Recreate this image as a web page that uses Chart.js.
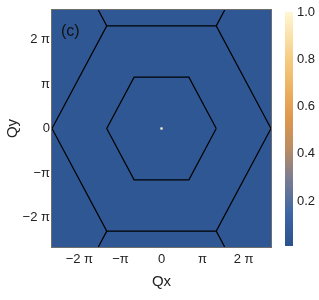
<!DOCTYPE html>
<html>
<head>
<meta charset="utf-8">
<script src="https://cdn.jsdelivr.net/npm/chart.js@4.4.1/dist/chart.umd.min.js"></script>
<style>
  body { margin: 0; background: #fff; }
  #wrap { position: relative; width: 319px; height: 300px; }
  #mapa { position: absolute; left: 0; top: 0; }
  #barra { position: absolute; left: 270px; top: 0; }
</style>
</head>
<body>
<div id="wrap">
  <canvas id="mapa" width="319" height="300"></canvas>
  <canvas id="barra" width="49" height="300"></canvas>
</div>
<script>
// coordenadas en unidades de pi
const ejeMin = -8 / 3;
const ejeMax = 8 / 3;
const ticksPi = [-2, -1, 0, 1, 2];
const etiquetasTicks = ["\u22122 \u03c0", "\u2212\u03c0", "0", "\u03c0", "2 \u03c0"];

// hexagono interior (primera zona)
const hexIntX = [4/3, 2/3, -2/3, -4/3, -2/3, 2/3, 4/3];
const hexIntY = [0, 1.1547, 1.1547, 0, -1.1547, -1.1547, 0];

// hexagono exterior
const hexExtX = [8/3, 4/3, -4/3, -8/3, -4/3, 4/3, 8/3];
const hexExtY = [0, 2.3094, 2.3094, 0, -2.3094, -2.3094, 0];

// aristas de las zonas vecinas (pares de puntos)
const vecX = [-4/3, -1.5396, 4/3, 1.5396, -4/3, -1.5396, 4/3, 1.5396];
const vecY = [2.3094, 2.6667, 2.3094, 2.6667, -2.3094, -2.6667, -2.3094, -2.6667];

// intensidad: fondo casi nulo y un pico en el centro
const fondoNivel = 0.05;
const picoX = [0];
const picoY = [0];
const picoNivel = [1.0];

// barra de color
const barraMin = 0.01;
const barraMax = 1.0;
const barraTicks = [0.2, 0.4, 0.6, 0.8, 1.0];
const paradasValor = [0.0, 0.15, 0.3, 0.42, 0.55, 0.65, 0.8, 1.0];
const paradasColor = [
    [40, 80, 140], [62, 102, 165], [125, 125, 145], [185, 140, 100],
    [222, 152, 78], [234, 172, 92], [246, 204, 130], [255, 247, 212]
];

const fuente = "'Liberation Sans', Arial, sans-serif";

function colorDe(v) {
    for (let i = 1; i < paradasValor.length; i++) {
        if (v <= paradasValor[i]) {
            let t = (v - paradasValor[i - 1]) / (paradasValor[i] - paradasValor[i - 1]);
            let a = paradasColor[i - 1], b = paradasColor[i];
            let c = a.map((x, k) => Math.round(x + (b[k] - x) * t));
            return "rgb(" + c.join(",") + ")";
        }
    }
    return "rgb(" + paradasColor[paradasColor.length - 1].join(",") + ")";
}

function puntos(xs, ys) {
    return xs.map((x, i) => ({ x: x * Math.PI, y: ys[i] * Math.PI }));
}

function segmentos(xs, ys) {
    let res = [];
    for (let i = 0; i < xs.length; i += 2) {
        res.push({ x: xs[i] * Math.PI, y: ys[i] * Math.PI });
        res.push({ x: xs[i + 1] * Math.PI, y: ys[i + 1] * Math.PI });
        res.push({ x: xs[i + 1] * Math.PI, y: null });
    }
    return res;
}

const fondoPlugin = {
    id: "fondo",
    beforeDatasetsDraw(chart) {
        const a = chart.chartArea;
        const ctx = chart.ctx;
        ctx.save();
        ctx.fillStyle = colorDe(fondoNivel);
        ctx.fillRect(a.left, a.top, a.right - a.left, a.bottom - a.top);
        ctx.restore();
    },
    afterDraw(chart) {
        const a = chart.chartArea;
        const ctx = chart.ctx;
        ctx.save();
        ctx.strokeStyle = "#6e6e6e";
        ctx.lineWidth = 1;
        ctx.strokeRect(a.left - 0.5, a.top - 0.5, a.right - a.left + 1, a.bottom - a.top + 1);
        ctx.fillStyle = "#111";
        ctx.font = "16px " + fuente;
        ctx.textBaseline = "middle";
        ctx.fillText("(c)", a.left + 9, a.top + 22);
        ctx.restore();
    }
};

function dibujarMapa() {
    const lineaNegra = { showLine: true, borderColor: "#000", borderWidth: 1.2, pointRadius: 0, fill: false, spanGaps: false };
    new Chart(document.getElementById("mapa").getContext("2d"), {
        type: "scatter",
        data: {
            datasets: [
                Object.assign({ data: puntos(hexIntX, hexIntY) }, lineaNegra),
                Object.assign({ data: puntos(hexExtX, hexExtY) }, lineaNegra),
                Object.assign({ data: segmentos(vecX, vecY) }, lineaNegra),
                {
                    data: puntos(picoX, picoY),
                    pointStyle: "rect",
                    pointRadius: 1.6,
                    borderWidth: 0,
                    backgroundColor: picoNivel.map(colorDe)
                }
            ]
        },
        options: {
            responsive: false,
            animation: false,
            devicePixelRatio: 1,
            layout: { padding: { top: 10, right: 48, left: 0, bottom: 0 } },
            plugins: { legend: { display: false }, tooltip: { enabled: false } },
            scales: {
                x: {
                    type: "linear",
                    min: ejeMin * Math.PI,
                    max: ejeMax * Math.PI,
                    afterFit: s => { s.height = 53; },
                    afterBuildTicks: s => { s.ticks = ticksPi.map(v => ({ value: v * Math.PI })); },
                    grid: { display: false, drawTicks: false },
                    border: { display: false },
                    ticks: {
                        padding: 5,
                        color: "#222",
                        font: { family: fuente, size: 13 },
                        callback: (v, i) => etiquetasTicks[i]
                    },
                    title: {
                        display: true, text: "Qx", color: "#222",
                        font: { family: fuente, size: 15 },
                        padding: { top: 0, bottom: 9 }
                    }
                },
                y: {
                    type: "linear",
                    min: ejeMin * Math.PI,
                    max: ejeMax * Math.PI,
                    afterFit: s => { s.width = 52; },
                    afterBuildTicks: s => { s.ticks = ticksPi.map(v => ({ value: v * Math.PI })); },
                    grid: { display: false, drawTicks: false },
                    border: { display: false },
                    ticks: {
                        padding: 2,
                        color: "#222",
                        font: { family: fuente, size: 13 },
                        callback: (v, i) => etiquetasTicks[i]
                    },
                    title: {
                        display: true, text: "Qy", color: "#222",
                        font: { family: fuente, size: 15 },
                        padding: { top: 4, bottom: 0 }
                    }
                }
            }
        },
        plugins: [fondoPlugin]
    });
}

function dibujarBarra() {
    new Chart(document.getElementById("barra").getContext("2d"), {
        type: "bar",
        data: {
            labels: [""],
            datasets: [{
                data: [[barraMin, barraMax]],
                barPercentage: 1,
                categoryPercentage: 1,
                borderWidth: 0,
                backgroundColor: ctx => {
                    const chart = ctx.chart;
                    const y = chart.scales.y;
                    if (!chart.chartArea || !y) return colorDe(0.5);
                    const p0 = y.getPixelForValue(0);
                    const p1 = y.getPixelForValue(1);
                    if (!isFinite(p0) || !isFinite(p1)) return colorDe(0.5);
                    const g = chart.ctx.createLinearGradient(0, p0, 0, p1);
                    paradasValor.forEach(v => g.addColorStop(v, colorDe(v)));
                    return g;
                }
            }]
        },
        options: {
            responsive: false,
            animation: false,
            devicePixelRatio: 1,
            layout: { padding: { top: 12, bottom: 54, left: 15, right: 0 } },
            plugins: { legend: { display: false }, tooltip: { enabled: false } },
            scales: {
                x: { display: false },
                y: {
                    position: "right",
                    min: barraMin,
                    max: barraMax,
                    afterFit: s => { s.width = 26; },
                    afterBuildTicks: s => { s.ticks = barraTicks.map(v => ({ value: v })); },
                    grid: { display: false, drawTicks: false },
                    border: { display: false },
                    ticks: {
                        padding: 4,
                        color: "#222",
                        font: { family: fuente, size: 13 },
                        callback: v => v.toFixed(1)
                    }
                }
            }
        }
    });
}

dibujarMapa();
dibujarBarra();
</script>
</body>
</html>
